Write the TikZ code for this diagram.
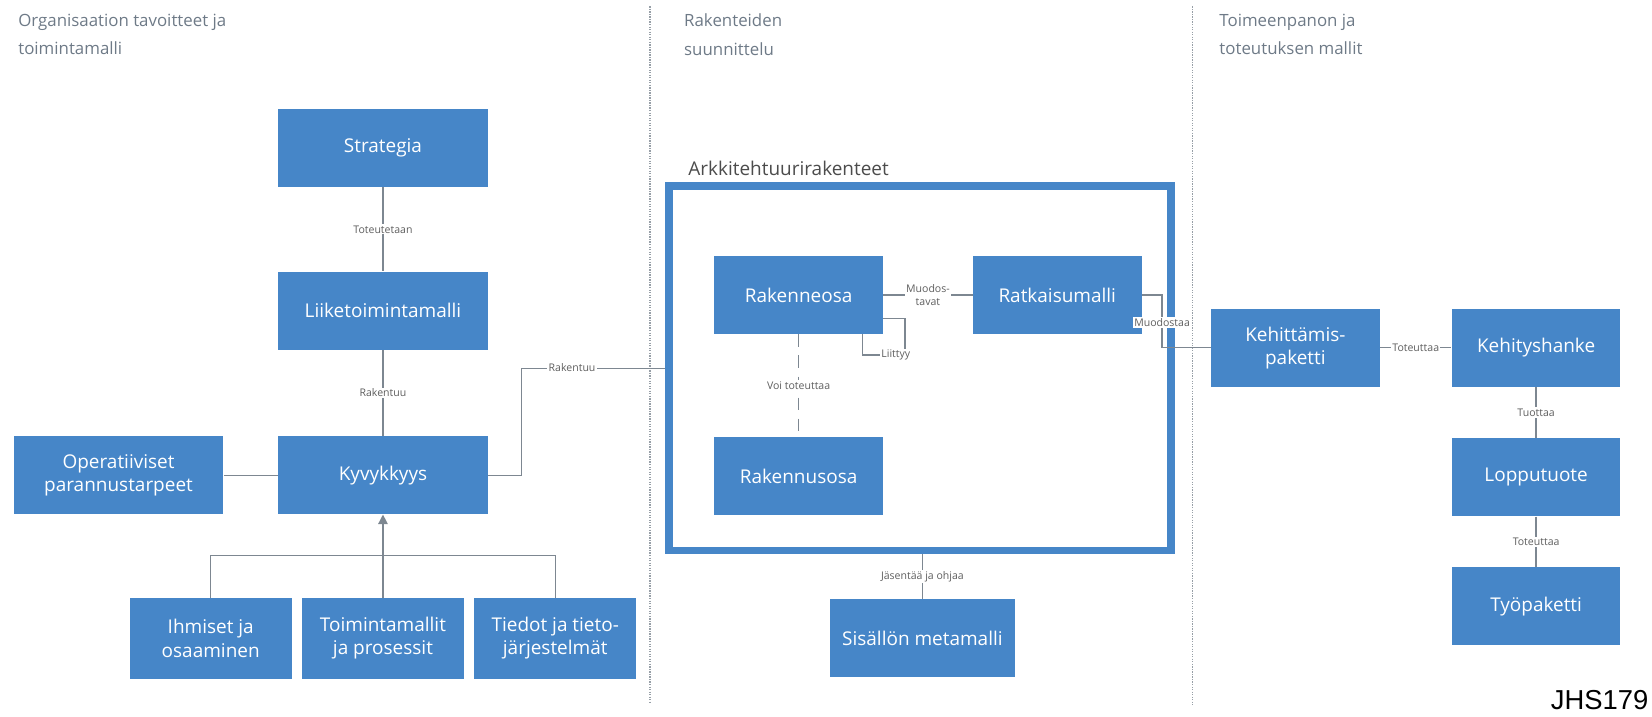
\documentclass[tikz,border=0pt]{standalone}
\usepackage{fontspec}
\setmainfont{Open Sans}
\newfontfamily\arialfont{Liberation Sans}
\usetikzlibrary{arrows.meta,calc}
\definecolor{boxblue}{RGB}{70,134,200}
\definecolor{linegray}{RGB}{125,135,145}
\definecolor{labelgray}{RGB}{95,95,95}
\definecolor{titlegray}{RGB}{110,122,135}
\begin{document}
\begin{tikzpicture}[x=0.5pt,y=-0.5pt,
  box/.style={fill=boxblue, text=white, align=center, inner sep=0pt,
    minimum width=99.5pt, minimum height=37pt, font=\fontsize{9}{11}\selectfont},
  smallbox/.style={box, minimum width=77pt, minimum height=38pt},
  midbox/.style={box, minimum width=80pt, minimum height=37pt},
  conn/.style={draw=linegray, line width=0.6pt},
  lbl/.style={fill=white, text=labelgray, inner sep=0.6pt,
    font=\fontsize{5}{6}\selectfont, align=center},
  title/.style={text=titlegray, font=\fontsize{8}{13.5}\selectfont,
    align=left, anchor=north west, inner sep=0pt},
  divider/.style={draw=linegray!80, line width=0.6pt, dash pattern=on 0.6pt off 0.6pt},
  archframe/.style={draw=boxblue, line width=3.5pt, minimum width=238.25pt,
    minimum height=173pt, inner sep=0pt}
]
\useasboundingbox (0,0) rectangle (1568,680);

% column dividers
\draw[divider] (617,6) -- (617,668);
\draw[divider] (1132,6) -- (1132,670);

% column titles
\node[title] (t1) at (17,13) {Organisaation tavoitteet ja\\toimintamalli};
\node[title] (t2) at (649,13) {Rakenteiden\\suunnittelu};
\node[title] (t3) at (1157,13) {Toimeenpanon ja\\toteutuksen mallit};

% left column
\node[box] (strat) at (363.5,140.5) {Strategia};
\node[box] (liike) at (363.5,295) {Liiketoimintamalli};
\node[box] (kyvy) at (363.5,451) {Kyvykkyys};
\node[box] (oper) at (112.5,451) {Operatiiviset\\parannustarpeet};
\node[smallbox] (ihm) at (200,606) {Ihmiset ja\\osaaminen};
\node[smallbox] (toim) at (363.5,606) {Toimintamallit\\ja prosessit};
\node[smallbox] (tied) at (527,606) {Tiedot ja tieto-\\järjestelmät};

% architecture structures
\node[archframe] (arch) at (873.25,349.5) {};
\node[anchor=west, inner sep=0pt, text=labelgray!80!black,
  font=\fontsize{9}{11}\selectfont] (archlbl) at (653,160) {Arkkitehtuurirakenteet};
\node[midbox] (rosa) at (758,280) {Rakenneosa};
\node[midbox] (ratk) at (1003.5,280) {Ratkaisumalli};
\node[midbox] (rnus) at (758,452) {Rakennusosa};
\node[box, minimum width=87.5pt] (meta) at (875.5,606) {Sisällön metamalli};

% implementation column
\node[midbox] (kehp) at (1229.5,330) {Kehittämis-\\paketti};
\node[midbox] (kehh) at (1458,330) {Kehityshanke};
\node[midbox] (lopp) at (1458,453) {Lopputuote};
\node[midbox] (tyo) at (1458,575.5) {Työpaketti};

% connectors, left column
\draw[conn] (strat) -- node[lbl] {Toteutetaan} (liike);
\draw[conn] (liike) -- node[lbl] {Rakentuu} (kyvy);
\draw[conn] (oper) -- (kyvy);
\coordinate (kr) at (495,451);
\draw[conn] (kyvy.east) -- (kr) |- (arch.west);
\node[lbl] (rakl) at (543,349) {Rakentuu};
\coordinate (bus) at (363.5,527);
\draw[conn] (ihm.north) |- (bus) -| (tied.north);
\draw[conn, -{Triangle[length=4.5pt,width=4.5pt]}, fill=linegray!70!black] (toim.north) -- (kyvy.south);

% connectors, architecture
\draw[conn] (rosa) -- node[lbl] {Muodos-\\tavat} (ratk);
\draw[conn, dash pattern=on 6pt off 4pt] (rosa) -- node[lbl] {Voi toteuttaa} (rnus);
\coordinate (lp) at (859,337);
\draw[conn] ([yshift=-11pt]rosa.east) -| (lp) -| ([xshift=-10pt]rosa.south east);
\node[lbl, anchor=west] (liit) at (835,337) {Liittyy};
\draw[conn] (arch.south -| meta.north) -- node[lbl] {Jäsentää ja ohjaa} (meta.north);

% connectors, implementation
\coordinate (mk) at (1103,306);
\draw[conn] (ratk.east) -| (mk) |- (kehp.west);
\node[lbl] (muod) at (mk) {Muodostaa};
\draw[conn] (kehp) -- node[lbl] {Toteuttaa} (kehh);
\draw[conn] (kehh) -- node[lbl] {Tuottaa} (lopp);
\draw[conn] (lopp) -- node[lbl] {Toteuttaa} (tyo);

% document code
\node[anchor=base east, inner sep=0pt, font=\arialfont\fontsize{13}{13}\selectfont] (jhs) at (1565,673) {JHS179};
\end{tikzpicture}
\end{document}
